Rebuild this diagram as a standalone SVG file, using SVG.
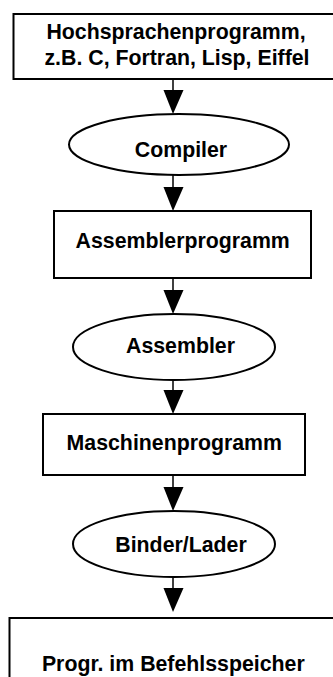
<svg xmlns="http://www.w3.org/2000/svg" width="333" height="677" viewBox="0 0 333 677">
<style>
.box{fill:#fff;stroke:#000;stroke-width:2}
.ell{fill:#fff;stroke:#000;stroke-width:2}
.lbl{font-family:"Liberation Sans",Arial,sans-serif;font-weight:bold;font-size:21.3px;fill:#000;text-anchor:middle}
.con line{stroke:#000;stroke-width:1.5}
.con polygon{fill:#000}
</style>
<rect width="333" height="677" fill="#fff"/>
<g id="connectors" class="con">
<line x1="173" y1="79" x2="173" y2="92"/><polygon points="163.5,90 183.5,90 173,114"/>
<line x1="173" y1="175" x2="173" y2="188"/><polygon points="163.5,187 183.5,187 173,211"/>
<line x1="173" y1="278" x2="173" y2="291"/><polygon points="163.5,290 183.5,290 173,314"/>
<line x1="173" y1="380" x2="173" y2="391"/><polygon points="163.5,390 183.5,390 173,414"/>
<line x1="173" y1="475" x2="173" y2="488"/><polygon points="163.5,487 183.5,487 173,511"/>
<line x1="173" y1="577" x2="173" y2="590"/><polygon points="163.5,588 183.5,588 173,612"/>
</g>
<g id="n1"><rect class="box" x="13.5" y="14" width="330" height="65"/>
<text class="lbl" x="176" y="39">Hochsprachenprogramm,</text>
<text class="lbl" x="177" y="65">z.B. C, Fortran, Lisp, Eiffel</text></g>
<g id="n2"><ellipse class="ell" cx="179" cy="144.5" rx="110" ry="30.5"/>
<text class="lbl" x="181" y="157">Compiler</text></g>
<g id="n3"><rect class="box" x="54" y="211" width="257" height="67"/>
<text class="lbl" x="182.7" y="248">Assemblerprogramm</text></g>
<g id="n4"><ellipse class="ell" cx="174" cy="347" rx="101" ry="33"/>
<text class="lbl" x="180.5" y="353">Assembler</text></g>
<g id="n5"><rect class="box" x="43" y="414" width="262" height="61"/>
<text class="lbl" x="174.3" y="450">Maschinenprogramm</text></g>
<g id="n6"><ellipse class="ell" cx="174" cy="544" rx="101" ry="33"/>
<text class="lbl" x="181" y="551.5">Binder/Lader</text></g>
<g id="n7"><rect class="box" x="9.5" y="618" width="340" height="80"/>
<text class="lbl" x="173.3" y="671">Progr. im Befehlsspeicher</text></g>
</svg>
